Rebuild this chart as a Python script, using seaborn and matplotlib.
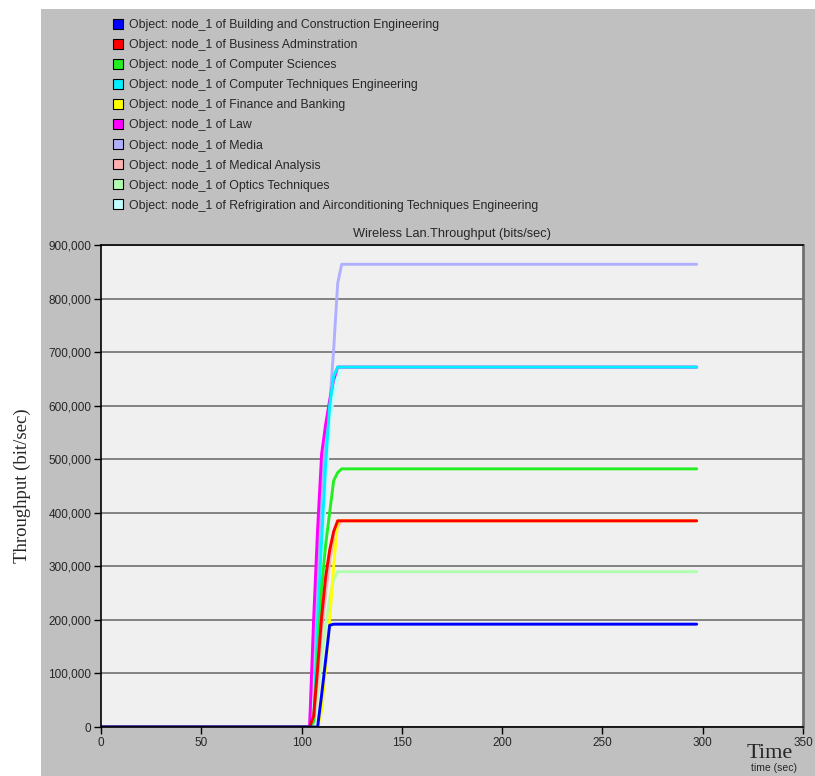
import numpy as np
import pandas as pd
import matplotlib
matplotlib.use("Agg")
import matplotlib.pyplot as plt
from matplotlib.lines import Line2D
from matplotlib.patches import Rectangle
from matplotlib.ticker import FuncFormatter
import seaborn as sns

sns.set_style("white")
plt.rcParams["font.family"] = ["Liberation Sans", "DejaVu Sans"]

# sample times (sec)
time = [0, 102, 104, 106, 108, 110, 112, 114, 116, 118, 120, 297]

series = [
    "Building and Construction Engineering",
    "Business Adminstration",
    "Computer Sciences",
    "Computer Techniques Engineering",
    "Finance and Banking",
    "Law",
    "Media",
    "Medical Analysis",
    "Optics Techniques",
    "Refrigiration and Airconditioning Techniques Engineering",
]
colors = ["#0000ff", "#ff0000", "#22ee22", "#00f0ff", "#ffff00",
          "#ff00ff", "#b0b0ff", "#ffb0b0", "#b0ffb0", "#c0ffff"]

building = [0, 0, 0, 0, 0, 60e3, 125e3, 190e3, 192e3, 192e3, 192e3, 192e3]
business = [0, 0, 0, 20e3, 110e3, 205e3, 280e3, 330e3, 365e3, 385e3, 385e3, 385e3]
comp_sci = [0, 0, 0, 10e3, 130e3, 260e3, 340e3, 400e3, 460e3, 475e3, 482e3, 482e3]
comp_tech = [0, 0, 0, 10e3, 200e3, 350e3, 490e3, 600e3, 655e3, 672e3, 672e3, 672e3]
finance = [0, 0, 0, 0, 0, 30e3, 110e3, 200e3, 300e3, 385e3, 385e3, 385e3]
law = [0, 0, 0, 200e3, 370e3, 510e3, 565e3, 610e3, 648e3, 672e3, 672e3, 672e3]
media = [0, 0, 0, 150e3, 300e3, 450e3, 530e3, 600e3, 705e3, 828e3, 864e3, 864e3]
medical = [0, 0, 0, 10e3, 90e3, 180e3, 250e3, 310e3, 350e3, 375e3, 385e3, 385e3]
optics = [0, 0, 0, 0, 60e3, 130e3, 190e3, 240e3, 275e3, 290e3, 290e3, 290e3]
refrig = [0, 0, 0, 0, 150e3, 300e3, 440e3, 560e3, 620e3, 650e3, 672e3, 672e3]

values = [building, business, comp_sci, comp_tech, finance,
          law, media, medical, optics, refrig]

df = pd.concat(
    [pd.DataFrame({"time": time, "value": v, "series": s}) for s, v in zip(series, values)],
    ignore_index=True,
)

fig = plt.figure(figsize=(8.15, 7.76), dpi=100)
fig.patch.set_facecolor("white")
# grey panel behind chart
fig.add_artist(Rectangle((41 / 815, 0), 1 - 41 / 815, 1 - 9 / 776,
                         transform=fig.transFigure, facecolor="#c0c0c0",
                         edgecolor="none", zorder=-10))

ax = fig.add_axes([101 / 815, 1 - 727 / 776, 702 / 815, 482 / 776])
ax.set_facecolor("#f0f0f0")

# first series drawn last so it sits on top
pal = dict(zip(series, colors))
sns.lineplot(data=df, x="time", y="value", hue="series", hue_order=series[::-1],
             palette=pal, linewidth=2.1, legend=False, ax=ax)

ax.set_xlim(0, 350)
ax.set_ylim(0, 900000)
ax.set_xticks(np.arange(0, 351, 50))
ax.set_yticks(np.arange(0, 900001, 100000))
ax.yaxis.set_major_formatter(FuncFormatter(lambda v, p: f"{int(v):,}"))
ax.grid(axis="y", color="#7a7a7a", linewidth=1.3)
ax.set_axisbelow(True)
ax.tick_params(axis="both", direction="out", length=5, width=1, color="black",
               labelsize=8.5, pad=2, left=True, bottom=True)
for side in ["left", "bottom", "top"]:
    ax.spines[side].set_color("black")
    ax.spines[side].set_linewidth(1.2)
ax.spines["right"].set_color("#707070")
ax.spines["right"].set_linewidth(2)
ax.set_xlabel("")
ax.set_ylabel("")
ax.set_title("Wireless Lan.Throughput (bits/sec)", fontsize=9.2, pad=6, x=0.5)

fig.text(22 / 815, 1 - 486 / 776, "Throughput (bit/sec)", rotation=90,
         family="Liberation Serif", fontsize=13.5, ha="center", va="center")
fig.text(770 / 815, 1 - 754 / 776, "Time", family="Liberation Serif",
         fontsize=16, ha="center", va="center")
fig.text(774 / 815, 1 - 768 / 776, "time (sec)", fontsize=7.5,
         ha="center", va="center")

handles = [Line2D([], [], marker="s", linestyle="none", markersize=6.8,
                  markerfacecolor=c, markeredgecolor="black", markeredgewidth=0.8)
           for c in colors]
labels = [f"Object: node_1 of {s}" for s in series]
fig.legend(handles, labels, loc="upper left", bbox_to_anchor=(106 / 815, 1 - 13 / 776),
           frameon=False, fontsize=8.8, handletextpad=0.35, labelspacing=0.66,
           borderpad=0, handlelength=1.0)

fig.savefig("out.png", dpi=100)
